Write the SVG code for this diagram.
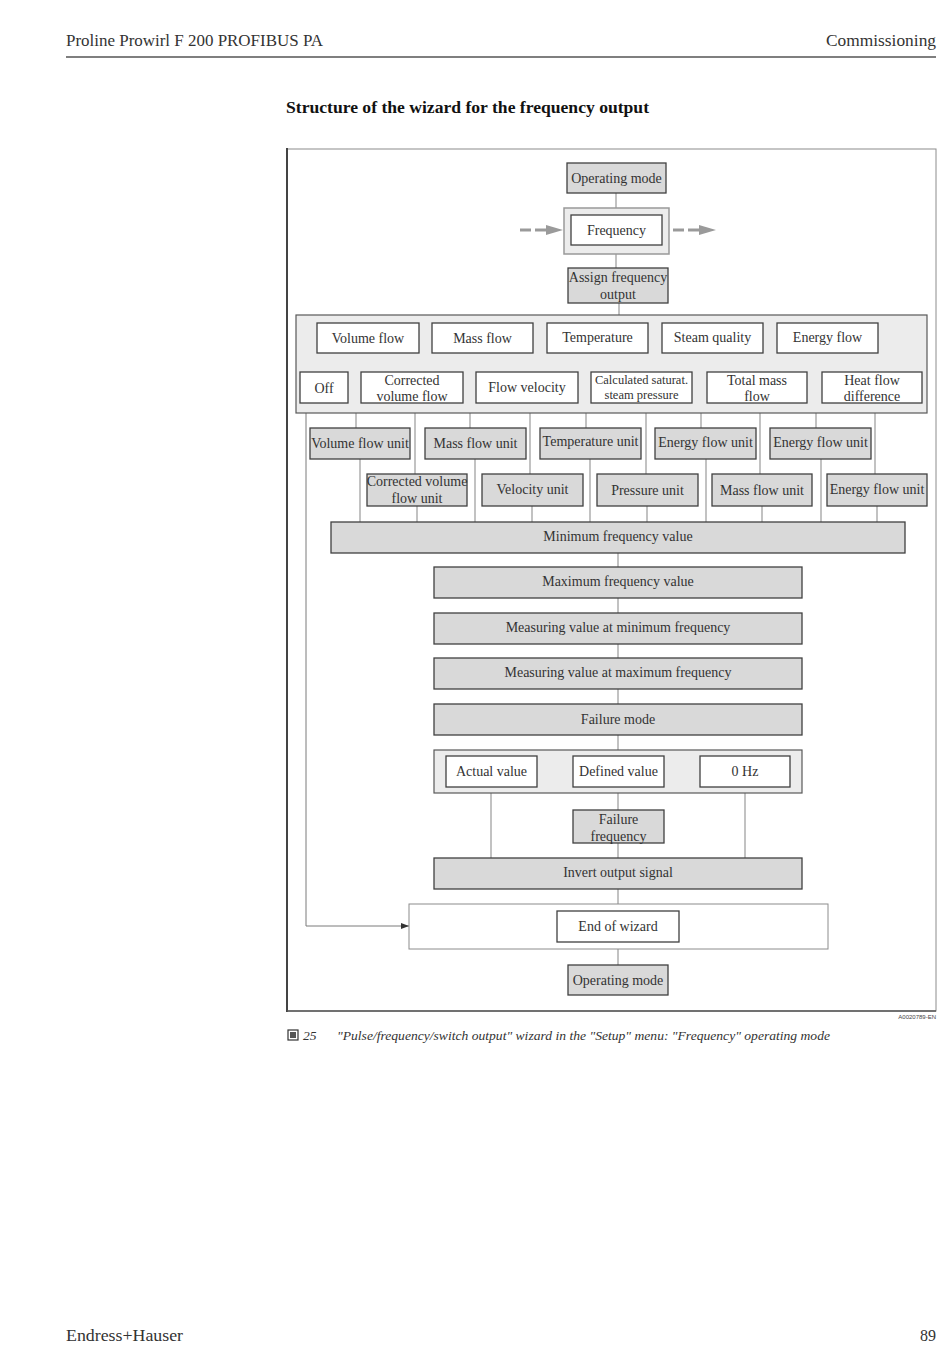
<svg xmlns="http://www.w3.org/2000/svg" width="950" height="1369" viewBox="0 0 950 1369">
<style>
.p{fill:#d9d9d9;stroke:#404040;stroke-width:1.3}
.o{fill:#ffffff;stroke:#404040;stroke-width:1.3}
.g{fill:#ececec;stroke:#595959;stroke-width:1.2}
.t{font-family:"Liberation Serif",serif;font-size:14px;fill:#333333;text-anchor:middle}
.s{font-size:12.5px}
.c{stroke:#858585;stroke-width:1;fill:none}
.h{font-family:"Liberation Serif",serif;font-size:16px;fill:#333333}
</style>
<defs>
<marker id="ah" markerWidth="8" markerHeight="6" refX="8" refY="3" orient="auto" markerUnits="userSpaceOnUse">
<path d="M0,0 L8,3 L0,6 Z" fill="#333333"/>
</marker>
</defs>
<rect width="950" height="1369" fill="#ffffff"/>

<!-- page header/footer -->
<text class="h" x="66" y="46" textLength="257" lengthAdjust="spacingAndGlyphs">Proline Prowirl F 200 PROFIBUS PA</text>
<text class="h" x="826" y="46" textLength="110" lengthAdjust="spacingAndGlyphs">Commissioning</text>
<line x1="66" y1="57" x2="936" y2="57" stroke="#000" stroke-width="1.2"/>
<text x="286" y="113" font-family="Liberation Serif, serif" font-size="16" font-weight="bold" fill="#111" textLength="363" lengthAdjust="spacingAndGlyphs">Structure of the wizard for the frequency output</text>
<text class="h" x="66" y="1341" textLength="117" lengthAdjust="spacingAndGlyphs">Endress+Hauser</text>
<text class="h" x="936" y="1341" text-anchor="end">89</text>

<!-- frame -->
<rect x="287" y="149" width="649" height="862" fill="none" stroke="#8c8c8c" stroke-width="1"/>
<line x1="287" y1="148" x2="287" y2="1012" stroke="#444" stroke-width="2"/>
<line x1="287" y1="1011" x2="936" y2="1011" stroke="#555" stroke-width="1.3"/>
<text x="936" y="1019" font-family="Liberation Sans, sans-serif" font-size="6" fill="#444" text-anchor="end">A0020789-EN</text>

<!-- caption -->
<rect x="288" y="1030" width="10" height="10" fill="#fff" stroke="#333" stroke-width="1.2"/>
<rect x="290" y="1032" width="6" height="6" fill="#555"/>
<text x="303" y="1040" font-family="Liberation Serif, serif" font-size="13.5" font-style="italic" fill="#333">25</text>
<text x="337" y="1040" font-family="Liberation Serif, serif" font-size="13.5" font-style="italic" fill="#333" textLength="493" lengthAdjust="spacingAndGlyphs">"Pulse/frequency/switch output" wizard in the "Setup" menu: "Frequency" operating mode</text>

<!-- connectors -->
<g id="connectors">
<path class="c" d="M616,193 V208 M616,254 V268 M619,303 V315"/>
<path class="c" d="M356,353 V428 M470,353 V428 M586,353 V428 M701,353 V428 M816,353 V428"/>
<path class="c" d="M415,403 V474 M530,403 V474 M646,403 V474 M760,403 V474 M875,403 V474"/>
<path class="c" d="M360,459 V522 M475,459 V522 M590,459 V522 M706,459 V522 M821,459 V522"/>
<path class="c" d="M417,506 V522 M532,506 V522 M647,506 V522 M762,506 V522 M877,506 V522"/>
<path class="c" d="M618,553 V567 M618,598 V613 M618,644 V658 M618,689 V704 M618,735 V750"/>
<path class="c" d="M491,787 V858 M618,787 V810 M745,787 V858 M618,843 V858 M618,889 V904 M618,949 V965"/>
<path d="M306,403 V926 H409" fill="none" stroke="#7a7a7a" stroke-width="1" marker-end="url(#ah)"/>
<g stroke="#9a9a9a" stroke-width="3">
<line x1="520" y1="230" x2="531" y2="230"/>
<line x1="535" y1="230" x2="548" y2="230"/>
<line x1="673" y1="230" x2="684" y2="230"/>
<line x1="688" y1="230" x2="701" y2="230"/>
</g>
<polygon points="546,225 563,230 546,235" fill="#9a9a9a"/>
<polygon points="699,225 716,230 699,235" fill="#9a9a9a"/>
</g>

<!-- top -->
<g id="op-mode-top"><rect class="p" x="567" y="163" width="99" height="30"/><text class="t" x="616.5" y="183">Operating mode</text></g>
<g id="frequency"><rect x="564" y="208" width="105" height="46" fill="#ececec" stroke="#999" stroke-width="1.5"/><rect class="o" x="571" y="215" width="91" height="30" stroke-width="1.8" stroke="#333"/><text class="t" x="616.5" y="234.5">Frequency</text></g>
<g id="assign"><rect class="p" x="568" y="268" width="100" height="35"/><text class="t" x="618" y="282">Assign frequency</text><text class="t" x="618" y="298.5">output</text></g>

<g id="assign-options"><rect class="g" x="296" y="315" width="631" height="98"/></g>
<g id="opt-volume-flow"><rect class="o" x="317" y="323" width="102" height="30"/><text class="t" x="368" y="343">Volume flow</text></g>
<g id="opt-mass-flow"><rect class="o" x="432" y="323" width="101" height="30"/><text class="t" x="482.5" y="343">Mass flow</text></g>
<g id="opt-temperature"><rect class="o" x="547" y="323" width="101" height="30"/><text class="t" x="597.5" y="342">Temperature</text></g>
<g id="opt-steam-quality"><rect class="o" x="662" y="323" width="101" height="30"/><text class="t" x="712.5" y="342">Steam quality</text></g>
<g id="opt-energy-flow"><rect class="o" x="777" y="323" width="101" height="30"/><text class="t" x="827.5" y="342">Energy flow</text></g>
<g id="opt-off"><rect class="o" x="300" y="372" width="48" height="31"/><text class="t" x="324" y="393">Off</text></g>
<g id="opt-corrected"><rect class="o" x="361" y="372" width="102" height="31"/><text class="t" x="412" y="385">Corrected</text><text class="t" x="412" y="401">volume flow</text></g>
<g id="opt-flow-velocity"><rect class="o" x="476" y="372" width="102" height="31"/><text class="t" x="527" y="392">Flow velocity</text></g>
<g id="opt-calc-sat"><rect class="o" x="591" y="372" width="101" height="31"/><text class="t s" x="641.5" y="384">Calculated saturat.</text><text class="t s" x="641.5" y="399">steam pressure</text></g>
<g id="opt-total-mass"><rect class="o" x="707" y="372" width="100" height="31"/><text class="t" x="757" y="385">Total mass</text><text class="t" x="757" y="401">flow</text></g>
<g id="opt-heat-flow"><rect class="o" x="822" y="372" width="100" height="31"/><text class="t" x="872" y="385">Heat flow</text><text class="t" x="872" y="401">difference</text></g>

<g id="u-volume"><rect class="p" x="310" y="428" width="100" height="31"/><text class="t" x="360" y="448">Volume flow unit</text></g>
<g id="u-mass"><rect class="p" x="425" y="428" width="101" height="31"/><text class="t" x="475.5" y="448">Mass flow unit</text></g>
<g id="u-temp"><rect class="p" x="540" y="428" width="101" height="31"/><text class="t" x="590.5" y="446">Temperature unit</text></g>
<g id="u-energy1"><rect class="p" x="655" y="428" width="101" height="31"/><text class="t" x="705.5" y="447">Energy flow unit</text></g>
<g id="u-energy2"><rect class="p" x="770" y="428" width="101" height="31"/><text class="t" x="820.5" y="447">Energy flow unit</text></g>
<g id="u-corrected"><rect class="p" x="367" y="474" width="100" height="32"/><text class="t" x="417" y="486">Corrected volume</text><text class="t" x="417" y="503">flow unit</text></g>
<g id="u-velocity"><rect class="p" x="482" y="474" width="101" height="32"/><text class="t" x="532.5" y="494">Velocity unit</text></g>
<g id="u-pressure"><rect class="p" x="597" y="474" width="101" height="32"/><text class="t" x="647.5" y="495">Pressure unit</text></g>
<g id="u-mass2"><rect class="p" x="712" y="474" width="100" height="32"/><text class="t" x="762" y="495">Mass flow unit</text></g>
<g id="u-energy3"><rect class="p" x="827" y="474" width="100" height="32"/><text class="t" x="877" y="494">Energy flow unit</text></g>

<g id="min-freq"><rect class="p" x="331" y="522" width="574" height="31" stroke="#707070"/><text class="t" x="618" y="541">Minimum frequency value</text></g>
<g id="max-freq"><rect class="p" x="434" y="567" width="368" height="31"/><text class="t" x="618" y="586">Maximum frequency value</text></g>
<g id="meas-min"><rect class="p" x="434" y="613" width="368" height="31"/><text class="t" x="618" y="632">Measuring value at minimum frequency</text></g>
<g id="meas-max"><rect class="p" x="434" y="658" width="368" height="31"/><text class="t" x="618" y="677">Measuring value at maximum frequency</text></g>
<g id="failure-mode"><rect class="p" x="434" y="704" width="368" height="31"/><text class="t" x="618" y="724">Failure mode</text></g>
<g id="failure-options"><rect class="g" x="434" y="750" width="368" height="43"/></g>
<g id="fo-actual"><rect class="o" x="446" y="756" width="91" height="31"/><text class="t" x="491.5" y="776">Actual value</text></g>
<g id="fo-defined"><rect class="o" x="573" y="756" width="91" height="31"/><text class="t" x="618.5" y="776">Defined value</text></g>
<g id="fo-0hz"><rect class="o" x="700" y="756" width="90" height="31"/><text class="t" x="745" y="776">0 Hz</text></g>
<g id="failure-freq"><rect class="p" x="573" y="810" width="91" height="33" stroke="#707070"/><text class="t" x="618.5" y="824">Failure</text><text class="t" x="618.5" y="841">frequency</text></g>
<g id="invert"><rect class="p" x="434" y="858" width="368" height="31"/><text class="t" x="618" y="877">Invert output signal</text></g>
<g id="end-wizard"><rect x="409" y="904" width="419" height="45" fill="#fff" stroke="#8c8c8c" stroke-width="1"/><rect class="o" x="557" y="911" width="122" height="31"/><text class="t" x="618" y="931">End of wizard</text></g>
<g id="op-mode-bottom"><rect class="p" x="568" y="965" width="100" height="30"/><text class="t" x="618" y="985">Operating mode</text></g>
</svg>
